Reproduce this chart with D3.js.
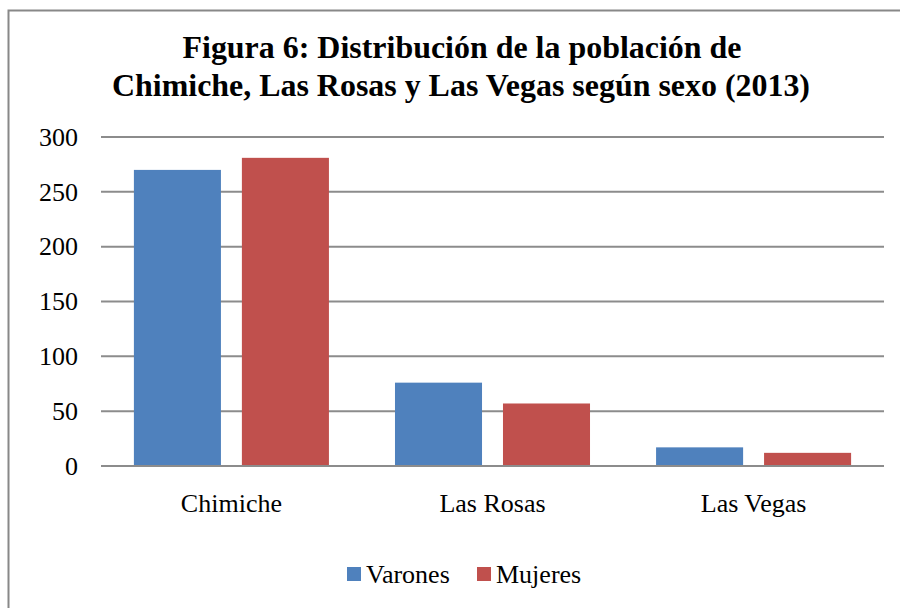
<!DOCTYPE html>
<html>
<head>
<meta charset="utf-8">
<script src="https://cdn.jsdelivr.net/npm/d3@7"></script>
<style>
    body { margin: 0; background: #fff; }
    text { font-family: "Liberation Serif", "Times New Roman", serif; fill: #000; }
</style>
</head>
<body>
<div id="chart"></div>
<script>
// Data
var categories = ["Chimiche", "Las Rosas", "Las Vegas"];
var seriesNames = ["Varones", "Mujeres"];
var varones = [270, 76, 17];
var mujeres = [281, 57, 12];
var yTicks = [0, 50, 100, 150, 200, 250, 300];

var colors = { "Varones": "#4F81BD", "Mujeres": "#C0504D" };

// SVG area
var svgWidth = 900;
var svgHeight = 608;

var margin = { top: 137, right: 16, bottom: 142, left: 101 };
var chartWidth = svgWidth - margin.left - margin.right;
var chartHeight = svgHeight - margin.top - margin.bottom;

var svg = d3.select("#chart")
    .append("svg")
    .attr("width", svgWidth)
    .attr("height", svgHeight);

// outer frame
svg.append("rect")
    .attr("x", 8.5)
    .attr("y", 10.5)
    .attr("width", svgWidth + 20)
    .attr("height", svgHeight + 20)
    .attr("fill", "none")
    .attr("stroke", "#888")
    .attr("stroke-width", 2);

// title
var title = svg.append("text")
    .attr("text-anchor", "middle")
    .style("font-size", "32px")
    .style("font-weight", "bold");
title.append("tspan")
    .attr("x", 462).attr("y", 58)
    .attr("textLength", 559)
    .attr("lengthAdjust", "spacingAndGlyphs")
    .text("Figura 6: Distribución de la población de");
title.append("tspan")
    .attr("x", 461).attr("y", 96)
    .attr("textLength", 698)
    .attr("lengthAdjust", "spacingAndGlyphs")
    .text("Chimiche, Las Rosas y Las Vegas según sexo (2013)");

var chartGroup = svg.append("g")
    .attr("transform", `translate(${margin.left}, ${margin.top})`);

var x0 = d3.scaleBand()
    .domain(categories)
    .range([0, chartWidth])
    .paddingInner(0.253)
    .paddingOuter(0.126);

var x1 = d3.scaleBand()
    .domain(seriesNames)
    .range([0, x0.bandwidth()])
    .paddingInner(0.194);

var yLinearScale = d3.scaleLinear()
    .domain([0, 300])
    .range([chartHeight, 0]);

// gridlines
chartGroup.append("g")
    .selectAll("line")
    .data(yTicks)
    .enter()
    .append("line")
    .attr("x1", 0)
    .attr("x2", chartWidth)
    .attr("y1", d => yLinearScale(d))
    .attr("y2", d => yLinearScale(d))
    .attr("stroke", "#8c8c8c")
    .attr("stroke-width", 2);

// y tick labels
var leftAxis = d3.axisLeft(yLinearScale)
    .tickValues(yTicks)
    .tickSize(0)
    .tickPadding(23);

var yAxis = chartGroup.append("g")
    .call(leftAxis);
yAxis.select(".domain").remove();
yAxis.selectAll("text")
    .style("font-size", "26px")
    .style("font-family", "'Liberation Serif', serif")
    .attr("fill", "#000");

// bars
var rows = categories.map(function (c, i) {
    return { category: c, values: [
        { name: "Varones", value: varones[i] },
        { name: "Mujeres", value: mujeres[i] }
    ] };
});

var groups = chartGroup.append("g")
    .selectAll("g")
    .data(rows)
    .enter()
    .append("g")
    .attr("transform", d => `translate(${x0(d.category)}, 0)`);

groups.selectAll("rect")
    .data(d => d.values)
    .enter()
    .append("rect")
    .attr("x", d => x1(d.name))
    .attr("width", x1.bandwidth())
    .attr("y", d => yLinearScale(d.value))
    .attr("height", d => chartHeight - yLinearScale(d.value) - 1)
    .attr("fill", d => colors[d.name]);

// x category labels
var bottomAxis = d3.axisBottom(x0)
    .tickSize(0)
    .tickPadding(28);

var xAxis = chartGroup.append("g")
    .attr("transform", "translate(0," + chartHeight + ")")
    .call(bottomAxis);
xAxis.select(".domain").remove();
xAxis.selectAll("text")
    .style("font-size", "26px")
    .style("font-family", "'Liberation Serif', serif")
    .attr("fill", "#000");

// legend
var legendX = [347, 477];
var legend = svg.append("g")
    .selectAll("g")
    .data(seriesNames)
    .enter()
    .append("g")
    .attr("transform", (d, i) => `translate(${legendX[i]}, 567)`);

legend.append("rect")
    .attr("width", 14)
    .attr("height", 14)
    .attr("fill", d => colors[d]);

legend.append("text")
    .attr("x", 19)
    .attr("y", 16)
    .style("font-size", "26px")
    .text(d => d);
</script>
</body>
</html>
